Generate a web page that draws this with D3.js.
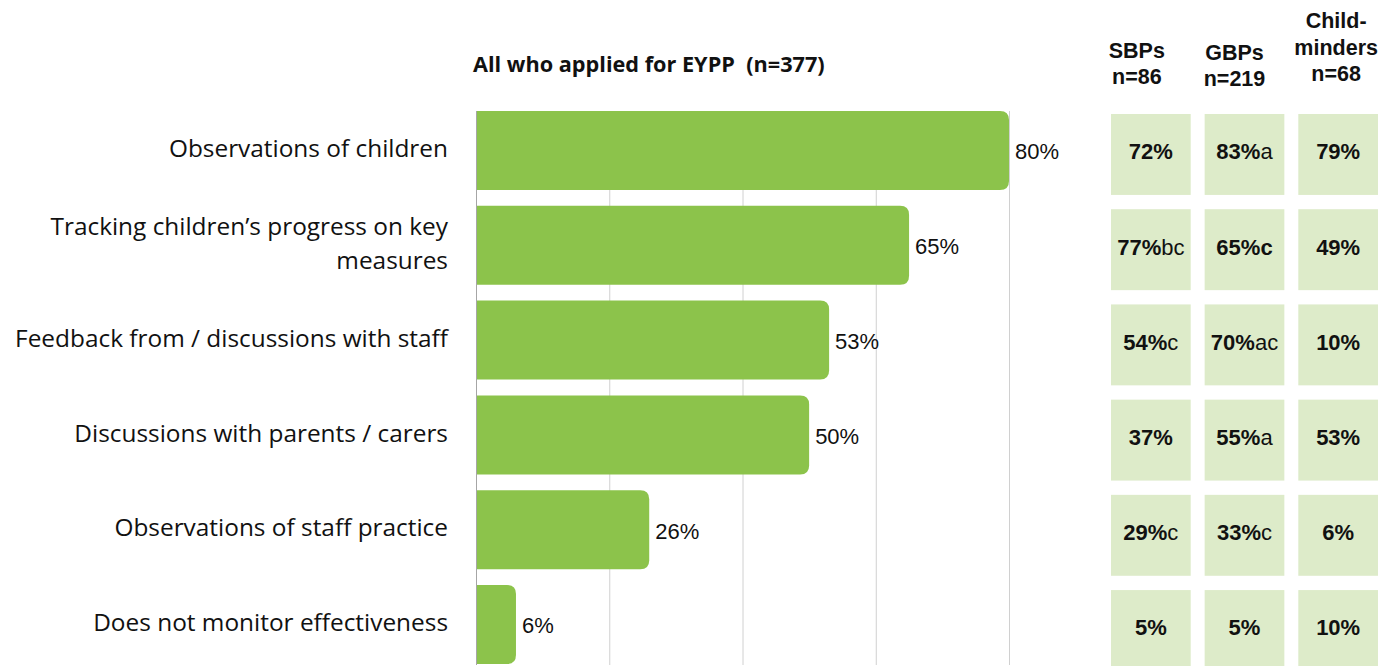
<!DOCTYPE html>
<html>
<head>
<meta charset="utf-8">
<script src="https://cdn.jsdelivr.net/npm/d3@7"></script>
<style>
  html, body { margin: 0; padding: 0; background: #fff; }
  svg { display: block; }
</style>
</head>
<body>
<svg id="chart" width="1390" height="666"></svg>
<script>
// How providers monitor EYPP effectiveness
const categories = [
  ["Observations of children"],
  ["Tracking children\u2019s progress on key", "measures"],
  ["Feedback from / discussions with staff"],
  ["Discussions with parents / carers"],
  ["Observations of staff practice"],
  ["Does not monitor effectiveness"]
];
const allValues = [80, 65, 53, 50, 26, 6];

const groupHeaders = [
  ["SBPs", "n=86"],
  ["GBPs", "n=219"],
  ["Child-", "minders", "n=68"]
];
const sbpValues   = [72, 77, 54, 37, 29, 5];
const gbpValues   = [83, 65, 70, 55, 33, 5];
const cmValues    = [79, 49, 10, 53, 6, 10];
// significance letters (and whether the letters are set in bold)
const sbpSig = ["", "bc", "c", "", "c", ""];
const gbpSig = ["a", "c", "ac", "a", "c", ""];
const cmSig  = ["", "", "", "", "", ""];
const sigBold = [
  [false, false, false, false, false, false],
  [false, true,  false, false, false, false],
  [false, false, false, false, false, false]
];
const gridTicks = [0, 20, 40, 60, 80];
const titleText = "All who applied for EYPP\u00a0\u00a0(n=377)";

const svg = d3.select("#chart");
const labelFont = "'Open Sans', 'Liberation Sans', sans-serif";
const numFont = "'Liberation Sans', Arial, sans-serif";

const x = d3.scaleLinear().domain([0, 80]).range([476, 1009]);
const rowIdx = d3.range(categories.length);
const y = d3.scaleBand().domain(rowIdx).range([111, 664]).paddingInner(0.167).paddingOuter(0);

// gridlines
svg.append("g").selectAll("line").data(gridTicks).join("line")
  .attr("x1", d => x(d) + 0.5).attr("x2", d => x(d) + 0.5)
  .attr("y1", 111).attr("y2", 665)
  .attr("stroke", d => d === 0 ? "#a6a6a6" : "#d0d0d0")
  .attr("stroke-width", 1);

// bars with rounded right end
const r = 9;
function barPath(d, i) {
  const x0 = x(0) + 1, x1 = x(d), y0 = y(i), h = y.bandwidth();
  const rr = Math.min(r, (x1 - x0) / 2);
  return `M${x0},${y0}H${x1 - rr}Q${x1},${y0} ${x1},${y0 + rr}V${y0 + h - rr}Q${x1},${y0 + h} ${x1 - rr},${y0 + h}H${x0}Z`;
}
svg.append("g").selectAll("path").data(allValues).join("path")
  .attr("d", barPath)
  .attr("fill", "#8cc34b");

// value labels
svg.append("g").selectAll("text").data(allValues).join("text")
  .attr("x", d => x(d) + 6)
  .attr("y", (d, i) => y(i) + y.bandwidth() / 2 + 1)
  .attr("dy", "0.36em")
  .attr("font-family", numFont)
  .attr("font-size", 22)
  .attr("fill", "#111")
  .text(d => d + "%");

// category labels (one text element per line)
const catG = svg.append("g");
categories.forEach((lines, i) => {
  const cy = y(i) + y.bandwidth() / 2 - 2;
  const lh = 33.5;
  lines.forEach((ln, k) => {
    catG.append("text")
      .attr("text-anchor", "end")
      .attr("font-family", labelFont)
      .attr("font-size", 24.4)
      .attr("fill", "#111")
      .attr("x", 448)
      .attr("y", cy + (k - (lines.length - 1) / 2) * lh)
      .attr("dy", "0.36em")
      .text(ln);
  });
});

// title
svg.append("text")
  .attr("x", 473).attr("y", 64).attr("dy", "0.36em")
  .attr("font-family", labelFont)
  .attr("font-weight", 700)
  .attr("font-size", 21.7)
  .attr("fill", "#111")
  .text(titleText);

// sub-group table
const cols = d3.range(groupHeaders.length);
const cx = d3.scaleBand().domain(cols).range([1111, 1378]).paddingInner(0.149).paddingOuter(0);
const cyS = d3.scaleBand().domain(rowIdx).range([114, 671]).paddingInner(0.15).paddingOuter(0);
const groupValues = [sbpValues, gbpValues, cmValues];
const groupSig = [sbpSig, gbpSig, cmSig];

const tbl = svg.append("g");
cols.forEach(c => {
  rowIdx.forEach(i => {
    tbl.append("rect")
      .attr("x", cx(c)).attr("y", cyS(i))
      .attr("width", cx.bandwidth()).attr("height", cyS.bandwidth())
      .attr("fill", "#ddebc9");
    const t = tbl.append("text")
      .attr("x", cx(c) + cx.bandwidth() / 2)
      .attr("y", cyS(i) + cyS.bandwidth() / 2 - 3)
      .attr("dy", "0.36em")
      .attr("text-anchor", "middle")
      .attr("font-family", numFont)
      .attr("font-size", 22)
      .attr("fill", "#111");
    t.append("tspan").attr("font-weight", 700).text(groupValues[c][i] + "%");
    if (groupSig[c][i]) {
      t.append("tspan").attr("font-weight", sigBold[c][i] ? 700 : 400).text(groupSig[c][i]);
    }
  });
});

// column headers (bottom-aligned)
const headerShift = [-14, -10, -2];
const headerBase = [84, 86, 81];
cols.forEach(c => {
  const lines = groupHeaders[c];
  const t = tbl.append("text")
    .attr("text-anchor", "middle")
    .attr("font-family", numFont)
    .attr("font-weight", 700)
    .attr("font-size", 21.5)
    .attr("fill", "#111");
  lines.forEach((ln, k) => {
    t.append("tspan")
      .attr("x", cx(c) + cx.bandwidth() / 2 + headerShift[c])
      .attr("y", headerBase[c] - (lines.length - 1 - k) * 26.5)
      .text(ln);
  });
});
</script>
</body>
</html>
